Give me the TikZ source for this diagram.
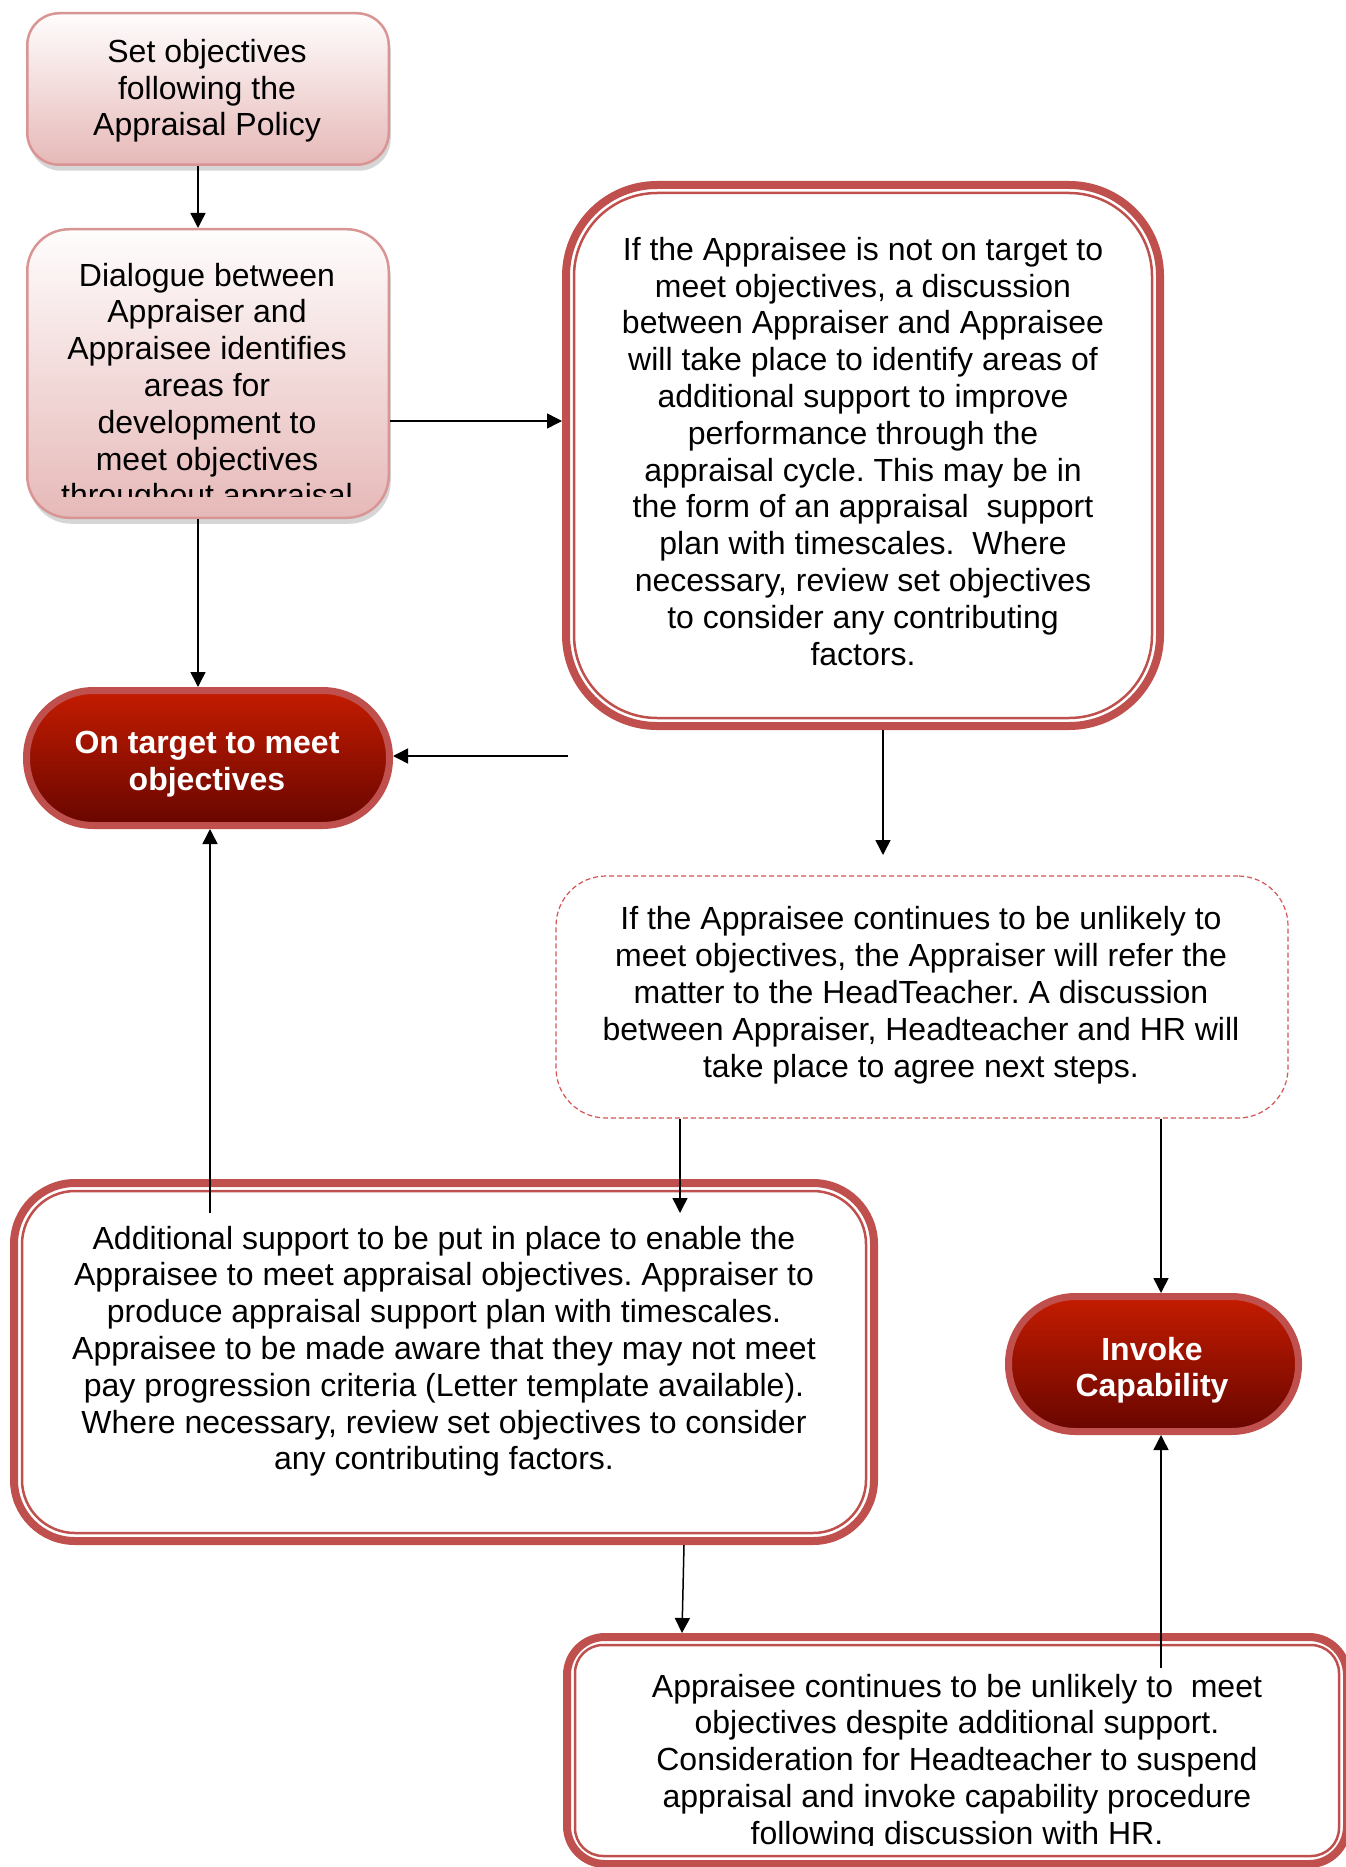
\documentclass[tikz,border=0pt]{standalone}
\usepackage{fontspec}
\setmainfont{Liberation Sans}
\usetikzlibrary{arrows.meta,shadows}
\definecolor{accent}{HTML}{C0504D}
\definecolor{pinkline}{HTML}{D99594}
\definecolor{pinktop}{HTML}{FFFDFD}
\definecolor{pinkbot}{HTML}{E6B9B8}
\definecolor{pilltop}{HTML}{C41C00}
\definecolor{pillbot}{HTML}{680600}
\definecolor{dashred}{HTML}{D65454}
\tikzset{
  txt/.style={font=\fontsize{32}{36.8}\selectfont\frenchspacing, align=center, inner sep=0pt, text=black},
  pilltxt/.style={font=\fontsize{32}{36.8}\selectfont\bfseries, align=center, inner sep=0pt, text=white},
  pinkbox/.style={draw=pinkline, line width=2.5pt, top color=pinktop, bottom color=pinkbot,
    drop shadow={shadow xshift=2pt, shadow yshift=-6pt, fill=black!35, opacity=.45}},
  pillbox/.style={draw=accent, line width=7pt, top color=pilltop, bottom color=pillbot, rounded corners=67pt,
    minimum height=135pt},
  bigout/.style={draw=accent, line width=8pt, fill=white},
  bigin/.style={draw=accent, line width=2.5pt},
  dashbox/.style={draw=dashred, line width=1.2pt, dash pattern=on 5pt off 3pt, rounded corners=50pt},
  arr/.style={draw=black, line width=1.5pt, -{Triangle[length=15pt,width=15pt]}},
}
\begin{document}
\begin{tikzpicture}[x=1pt,y=-1pt]
\useasboundingbox (0,0) rectangle (1345,1867);
\fill[white] (0,0) rectangle (1345,1867);

% box 1 and box 2
\node[pinkbox, rounded corners=32pt, minimum width=361.5pt, minimum height=151.5pt] (b1) at (208,89) {};
\node[txt] (t1) at (207,90.9) {Set objectives\\following the\\Appraisal Policy};
\node[pinkbox, rounded corners=42pt, minimum width=361.5pt, minimum height=288.5pt] (b2) at (208,373.5) {};
\begin{scope}
  \clip (30,232) rectangle (386,496);
  \node[txt] (t2) at (207,388.3) {Dialogue between\\Appraiser and\\Appraisee identifies\\areas for\\development to\\meet objectives\\throughout appraisal};
\end{scope}

% box 3
\node[bigout, rounded corners=91pt, minimum width=594pt, minimum height=541pt] (b3) at (863,455.5) {};
\node[bigin, rounded corners=83pt, minimum width=578pt, minimum height=525pt] (b3i) at (b3.center) {};
\node[txt] (t3) at (863,451.2) {If the Appraisee is not on target to\\meet objectives, a discussion\\between Appraiser and Appraisee\\will take place to identify areas of\\additional support to improve\\performance through the\\appraisal cycle. This may be in\\the form of an appraisal\ \ support\\plan with timescales.\ \ Where\\necessary, review set objectives\\to consider any contributing\\factors.};

% pills
\node[pillbox, minimum width=363pt] (p1) at (208,758) {};
\node[pilltxt] (pt1) at (207,764.3) {On target to meet\\objectives};
\node[pillbox, minimum width=290pt] (p2) at (1153.5,1364) {};
\node[pilltxt] (pt2) at (1152,1370.3) {Invoke\\Capability};

% dashed box
\node[dashbox, minimum width=732pt, minimum height=242pt] (d) at (922,997) {};
\node[txt] (td) at (921,995.3) {If the Appraisee continues to be unlikely to\\meet objectives, the Appraiser will refer the\\matter to the HeadTeacher. A discussion\\between Appraiser, Headteacher and HR will\\take place to agree next steps.};

% additional box
\node[bigout, rounded corners=61pt, minimum width=860pt, minimum height=358pt] (a) at (444,1362) {};
\node[bigin, rounded corners=53pt, minimum width=844pt, minimum height=342pt] (ai) at (a.center) {};
\node[txt] (ta) at (444,1351.2) {Additional support to be put in place to enable the\\Appraisee to meet appraisal objectives. Appraiser to\\produce appraisal support plan with timescales.\\Appraisee to be made aware that they may not meet\\pay progression criteria (Letter template available).\\Where necessary, review set objectives to consider\\any contributing factors.};

% bottom box (slightly cut by the page edge, as in the reference)
\node[bigout, rounded corners=38pt, minimum width=780pt, minimum height=227pt] (bb) at (957,1750.5) {};
\node[bigin, rounded corners=28pt, minimum width=764pt, minimum height=211pt] (bbi) at (bb.center) {};
\begin{scope}
  \clip (570,1645) rectangle (1338,1845);
  \node[txt] (tb) at (957,1762.5) {Appraisee continues to be unlikely to\ \ meet\\objectives despite additional support.\\Consideration for Headteacher to suspend\\appraisal and invoke capability procedure\\following discussion with HR.};
\end{scope}

% free ends
\coordinate (c4) at (568,756);
\coordinate (c5) at (883,855);
\coordinate (c6) at (680,1213);
\coordinate (c7) at (210,1213);
\coordinate (c10) at (1161,1668);

% connectors
\draw[arr] (b1.south -| 198,0) -- (b2.north -| 198,0);
\draw[arr] (b2.east |- 0,421) -- (b3.west |- 0,421);
\draw[arr] (b2.south -| 198,0) -- (p1.north -| 198,0);
\draw[arr] (c4) -- (p1.east |- c4);
\draw[arr] (b3.south -| c5) -- (c5);
\draw[arr] (d.south -| c6) -- (c6);
\draw[arr] (c7) -- (p1.south -| c7);
\draw[arr] (d.south -| 1161,0) -- (p2.north -| 1161,0);
\draw[arr] (a.south -| 684,0) -- (bb.north -| 682,0);
\draw[arr] (c10) -- (p2.south -| c10);
\end{tikzpicture}
\end{document}
